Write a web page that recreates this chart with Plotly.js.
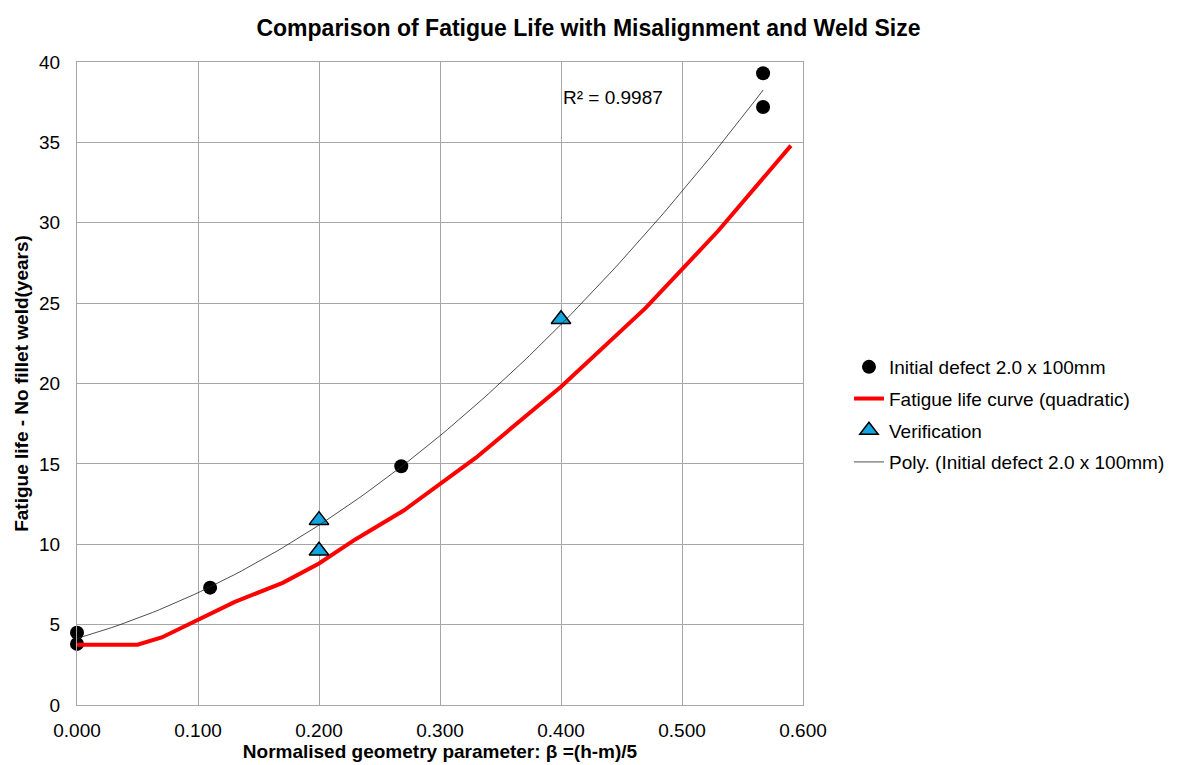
<!DOCTYPE html>
<html>
<head>
<meta charset="utf-8">
<script src="https://cdn.plot.ly/plotly-3.0.1.min.js"></script>
<style>html,body{margin:0;padding:0;background:#fff;}#chart{width:1177px;height:765px;}</style>
</head>
<body>
<div id="chart"></div>
<script>
// Initial defect 2.0 x 100mm (black points)
const defectX = [0.000, 0.000, 0.110, 0.268, 0.567, 0.567];
const defectY = [4.5, 3.8, 7.3, 14.85, 39.3, 37.2];

// Fatigue life curve (quadratic)
const curveX = [0.00, 0.05, 0.07, 0.10, 0.13, 0.17, 0.20, 0.23, 0.27, 0.33, 0.40, 0.47, 0.53, 0.59];
const curveY = [3.75, 3.75, 4.2, 5.3, 6.4, 7.6, 8.8, 10.3, 12.1, 15.4, 19.8, 24.7, 29.5, 34.8];

// Verification
const verX = [0.200, 0.200, 0.400];
const verY = [11.5, 9.6, 24.0];

const xTicks = [0, 0.1, 0.2, 0.3, 0.4, 0.5, 0.6];
const xTickText = ['0.000', '0.100', '0.200', '0.300', '0.400', '0.500', '0.600'];
const yTicks = [0, 5, 10, 15, 20, 25, 30, 35, 40];

// Least-squares quadratic trendline through the black points
function quadFit(xs, ys) {
  let S = [0,0,0,0,0], T = [0,0,0];
  for (let i = 0; i < xs.length; i++) {
    let p = 1;
    for (let k = 0; k < 5; k++) { S[k] += p; if (k < 3) T[k] += p * ys[i]; p *= xs[i]; }
  }
  const M = [[S[0],S[1],S[2],T[0]],[S[1],S[2],S[3],T[1]],[S[2],S[3],S[4],T[2]]];
  for (let i = 0; i < 3; i++) {
    let piv = i;
    for (let r = i+1; r < 3; r++) if (Math.abs(M[r][i]) > Math.abs(M[piv][i])) piv = r;
    [M[i], M[piv]] = [M[piv], M[i]];
    for (let r = 0; r < 3; r++) {
      if (r === i) continue;
      const f = M[r][i] / M[i][i];
      for (let c = i; c < 4; c++) M[r][c] -= f * M[i][c];
    }
  }
  return [M[0][3]/M[0][0], M[1][3]/M[1][1], M[2][3]/M[2][2]];
}
const coef = quadFit(defectX, defectY);
const xMin = Math.min(...defectX), xMax = Math.max(...defectX);
const trendX = [], trendY = [];
for (let i = 0; i <= 100; i++) {
  const x = xMin + (xMax - xMin) * i / 100;
  trendX.push(x);
  trendY.push(coef[0] + coef[1]*x + coef[2]*x*x);
}

const font = 'Liberation Sans, Arial, sans-serif';
const grid = '#a6a6a6';

const traces = [
  {x: defectX, y: defectY, type: 'scatter', mode: 'markers', name: 'Initial defect 2.0 x 100mm',
   legendgroup: 'g1', marker: {color: '#000', size: 14}, cliponaxis: false},
  {x: curveX, y: curveY, type: 'scatter', mode: 'lines', name: 'Fatigue life curve (quadratic)',
   legendgroup: 'g2', line: {color: '#ff0000', width: 4}, cliponaxis: false},
  {x: verX, y: verY, type: 'scatter', mode: 'markers', name: 'Verification',
   legendgroup: 'g3', marker: {color: '#12a5e0', size: 17, symbol: 'triangle-up', line: {color: '#000', width: 1.5}}, cliponaxis: false},
  {x: trendX, y: trendY, type: 'scatter', mode: 'lines', name: 'Poly. (Initial defect 2.0 x 100mm)',
   legendgroup: 'g4', line: {color: '#222', width: 0.8}, cliponaxis: false}
];

const layout = {
  width: 1177, height: 765,
  margin: {l: 77, r: 374, t: 62, b: 60, autoexpand: false},
  paper_bgcolor: '#fff', plot_bgcolor: '#fff',
  font: {family: font, size: 19, color: '#000'},
  title: {text: '<b>Comparison of Fatigue Life with Misalignment and Weld Size</b>',
          font: {family: font, size: 23, color: '#000'},
          x: 0.5, xanchor: 'center', y: 0.963, yanchor: 'middle', yref: 'container'},
  xaxis: {range: [0, 0.6], tickvals: xTicks, ticktext: xTickText, showgrid: true, gridcolor: grid, gridwidth: 1,
          zeroline: false, showline: true, linecolor: grid, linewidth: 1, mirror: true, ticks: '',
          ticklabelstandoff: 8, automargin: false,
          tickfont: {family: font, size: 19, color: '#000'},
          title: {text: '<b>Normalised geometry parameter: β =(h-m)/5</b>', font: {family: font, size: 19, color: '#000'}, standoff: 4}},
  yaxis: {range: [0, 40], tickvals: yTicks, showgrid: true, gridcolor: grid, gridwidth: 1,
          zeroline: false, showline: true, linecolor: grid, linewidth: 1, mirror: true, ticks: '',
          ticklabelstandoff: 12, automargin: false,
          tickfont: {family: font, size: 19, color: '#000'},
          title: {text: '<b>Fatigue life - No fillet weld(years)</b>', font: {family: font, size: 19, color: '#000'}, standoff: 5}},
  legend: {xref: 'container', yref: 'container', x: 0.7213, xanchor: 'left', y: 0.4582, yanchor: 'middle',
           font: {family: font, size: 19, color: '#000'}, bgcolor: 'rgba(0,0,0,0)', tracegroupgap: 4},
  showlegend: true,
  annotations: [{x: 0.4, y: 37.8, xref: 'x', yref: 'y', text: 'R² = 0.9987', showarrow: false,
                 xanchor: 'left', yanchor: 'middle', font: {family: font, size: 19, color: '#000'}}]
};

Plotly.newPlot('chart', traces, layout, {displayModeBar: false, staticPlot: true});
</script>
</body>
</html>
